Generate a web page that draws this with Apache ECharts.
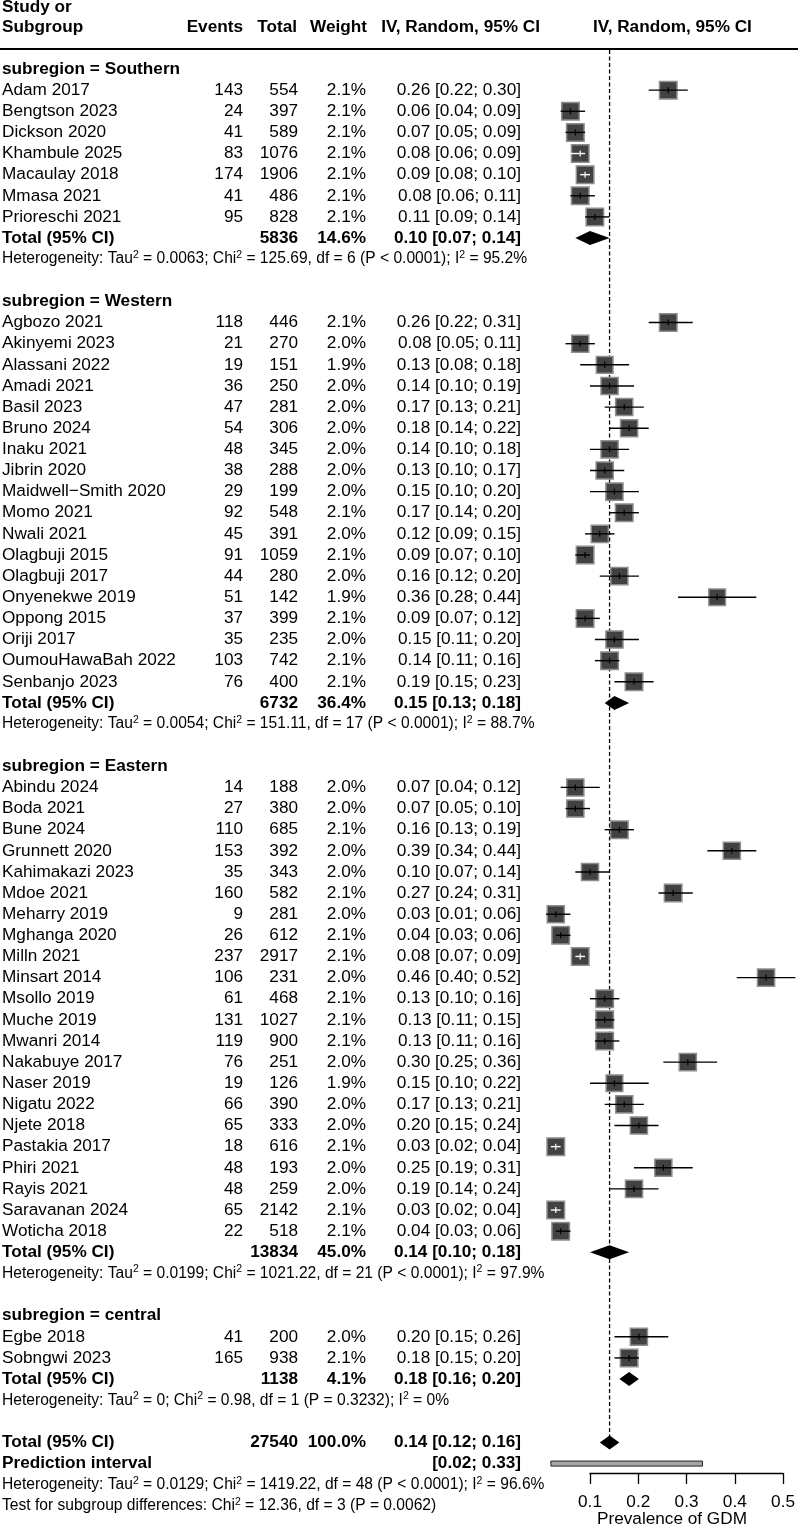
<!DOCTYPE html>
<html>
<head>
<meta charset="utf-8">
<title>Prevalence of GDM - forest plot</title>
<script src="https://cdn.jsdelivr.net/npm/echarts/dist/echarts.min.js"></script>
</head>
<body style="margin:0;background:#fff">
<div id="container" style="width:798px;height:1533px"></div>
<script>
// ---- data ----
var groupNames = ['Southern', 'Western', 'Eastern', 'central'];

var southStudy  = ['Adam 2017', 'Bengtson 2023', 'Dickson 2020', 'Khambule 2025', 'Macaulay 2018', 'Mmasa 2021', 'Prioreschi 2021'];
var southEvents = [143, 24, 41, 83, 174, 41, 95];
var southTotal  = [554, 397, 589, 1076, 1906, 486, 828];
var southWeight = [2.1, 2.1, 2.1, 2.1, 2.1, 2.1, 2.1];
var southEst    = [0.26, 0.06, 0.07, 0.08, 0.09, 0.08, 0.11];
var southLo     = [0.22, 0.04, 0.05, 0.06, 0.08, 0.06, 0.09];
var southHi     = [0.30, 0.09, 0.09, 0.09, 0.10, 0.11, 0.14];

var westStudy  = ['Agbozo 2021', 'Akinyemi 2023', 'Alassani 2022', 'Amadi 2021', 'Basil 2023', 'Bruno 2024', 'Inaku 2021', 'Jibrin 2020', 'Maidwell\u2212Smith 2020', 'Momo 2021', 'Nwali 2021', 'Olagbuji 2015', 'Olagbuji 2017', 'Onyenekwe 2019', 'Oppong 2015', 'Oriji 2017', 'OumouHawaBah 2022', 'Senbanjo 2023'];
var westEvents = [118, 21, 19, 36, 47, 54, 48, 38, 29, 92, 45, 91, 44, 51, 37, 35, 103, 76];
var westTotal  = [446, 270, 151, 250, 281, 306, 345, 288, 199, 548, 391, 1059, 280, 142, 399, 235, 742, 400];
var westWeight = [2.1, 2.0, 1.9, 2.0, 2.0, 2.0, 2.0, 2.0, 2.0, 2.1, 2.0, 2.1, 2.0, 1.9, 2.1, 2.0, 2.1, 2.1];
var westEst    = [0.26, 0.08, 0.13, 0.14, 0.17, 0.18, 0.14, 0.13, 0.15, 0.17, 0.12, 0.09, 0.16, 0.36, 0.09, 0.15, 0.14, 0.19];
var westLo     = [0.22, 0.05, 0.08, 0.10, 0.13, 0.14, 0.10, 0.10, 0.10, 0.14, 0.09, 0.07, 0.12, 0.28, 0.07, 0.11, 0.11, 0.15];
var westHi     = [0.31, 0.11, 0.18, 0.19, 0.21, 0.22, 0.18, 0.17, 0.20, 0.20, 0.15, 0.10, 0.20, 0.44, 0.12, 0.20, 0.16, 0.23];

var eastStudy  = ['Abindu 2024', 'Boda 2021', 'Bune 2024', 'Grunnett 2020', 'Kahimakazi 2023', 'Mdoe 2021', 'Meharry 2019', 'Mghanga 2020', 'Milln 2021', 'Minsart 2014', 'Msollo 2019', 'Muche 2019', 'Mwanri 2014', 'Nakabuye 2017', 'Naser 2019', 'Nigatu 2022', 'Njete 2018', 'Pastakia 2017', 'Phiri 2021', 'Rayis 2021', 'Saravanan 2024', 'Woticha 2018'];
var eastEvents = [14, 27, 110, 153, 35, 160, 9, 26, 237, 106, 61, 131, 119, 76, 19, 66, 65, 18, 48, 48, 65, 22];
var eastTotal  = [188, 380, 685, 392, 343, 582, 281, 612, 2917, 231, 468, 1027, 900, 251, 126, 390, 333, 616, 193, 259, 2142, 518];
var eastWeight = [2.0, 2.0, 2.1, 2.0, 2.0, 2.1, 2.0, 2.1, 2.1, 2.0, 2.1, 2.1, 2.1, 2.0, 1.9, 2.0, 2.0, 2.1, 2.0, 2.0, 2.1, 2.1];
var eastEst    = [0.07, 0.07, 0.16, 0.39, 0.10, 0.27, 0.03, 0.04, 0.08, 0.46, 0.13, 0.13, 0.13, 0.30, 0.15, 0.17, 0.20, 0.03, 0.25, 0.19, 0.03, 0.04];
var eastLo     = [0.04, 0.05, 0.13, 0.34, 0.07, 0.24, 0.01, 0.03, 0.07, 0.40, 0.10, 0.11, 0.11, 0.25, 0.10, 0.13, 0.15, 0.02, 0.19, 0.14, 0.02, 0.03];
var eastHi     = [0.12, 0.10, 0.19, 0.44, 0.14, 0.31, 0.06, 0.06, 0.09, 0.52, 0.16, 0.15, 0.16, 0.36, 0.22, 0.21, 0.24, 0.04, 0.31, 0.24, 0.04, 0.06];

var centStudy  = ['Egbe 2018', 'Sobngwi 2023'];
var centEvents = [41, 165];
var centTotal  = [200, 938];
var centWeight = [2.0, 2.1];
var centEst    = [0.20, 0.18];
var centLo     = [0.15, 0.15];
var centHi     = [0.26, 0.20];

// subgroup summaries
var subTotal  = [5836, 6732, 13834, 1138];
var subWeight = [14.6, 36.4, 45.0, 4.1];
var subEst    = [0.10, 0.15, 0.14, 0.18];
var subLo     = [0.07, 0.13, 0.10, 0.16];
var subHi     = [0.14, 0.18, 0.18, 0.20];
var subTau2   = ['0.0063', '0.0054', '0.0199', '0'];
var subChi2   = ['125.69', '151.11', '1021.22', '0.98'];
var subDf     = [6, 17, 21, 1];
var subP      = ['< 0.0001', '< 0.0001', '< 0.0001', '= 0.3232'];
var subI2     = ['95.2%', '88.7%', '97.9%', '0%'];

// overall
var allTotal = 27540, allWeight = 100.0;
var allEst = 0.14, allLo = 0.12, allHi = 0.16;
var predLo = 0.02, predHi = 0.33;
var allTau2 = '0.0129', allChi2 = '1419.22', allDf = 48, allP = '< 0.0001', allI2 = '96.6%';
var testChi2 = '12.36', testDf = 3, testP = '= 0.0062';

var axisTicks = [0.1, 0.2, 0.3, 0.4, 0.5];
var axisTitle = 'Prevalence of GDM';

// ---- build table rows ----
var groups = [
    [southStudy, southEvents, southTotal, southWeight, southEst, southLo, southHi],
    [westStudy, westEvents, westTotal, westWeight, westEst, westLo, westHi],
    [eastStudy, eastEvents, eastTotal, eastWeight, eastEst, eastLo, eastHi],
    [centStudy, centEvents, centTotal, centWeight, centEst, centLo, centHi]
];
var rows = [];
function addRow(o) { o.r = rows.length; rows.push(o); }
function ci(e, l, h) { return e.toFixed(2) + ' [' + l.toFixed(2) + '; ' + h.toFixed(2) + ']'; }
function het(t, c, d, p, i) {
    return 'Heterogeneity: Tau{s|2} = ' + t + '; Chi{s|2} = ' + c + ', df = ' + d + ' (P ' + p + '); I{s|2} = ' + i;
}
groups.forEach(function (g, k) {
    addRow({kind: 'head', label: 'subregion = ' + groupNames[k]});
    for (var i = 0; i < g[0].length; i++) {
        addRow({kind: 'study', label: g[0][i], events: g[1][i], total: g[2][i], weight: g[3][i],
                est: g[4][i], lo: g[5][i], hi: g[6][i]});
    }
    addRow({kind: 'total', label: 'Total (95% CI)', total: subTotal[k], weight: subWeight[k],
            est: subEst[k], lo: subLo[k], hi: subHi[k]});
    addRow({kind: 'het', label: het(subTau2[k], subChi2[k], subDf[k], subP[k], subI2[k])});
    addRow({kind: 'blank'});
});
addRow({kind: 'total', label: 'Total (95% CI)', total: allTotal, weight: allWeight, est: allEst, lo: allLo, hi: allHi});
addRow({kind: 'pred', label: 'Prediction interval', lo: predLo, hi: predHi});
addRow({kind: 'het', label: het(allTau2, allChi2, allDf, allP, allI2)});
addRow({kind: 'het', label: 'Test for subgroup differences: Chi{s|2} = ' + testChi2 + ', df = ' + testDf + ' (P ' + testP + ')'});
var overallRow = rows.length - 4;

// studies drawn with a white CI line (interval hidden inside the box)
var whiteLineStudies = ['Khambule 2025', 'Macaulay 2018', 'Milln 2021', 'Pastakia 2017', 'Saravanan 2024'];

var FONT = "'Liberation Sans', Arial, Helvetica, sans-serif";
var FS = 17.2, HS = 15.6;
var COL = {name: 2, events: 243, total: 298, weight: 366, ci: 521};

function txt(x, y, s, align, bold, size) {
    return {
        type: 'text',
        style: {
            text: s, x: x, y: y, align: align, verticalAlign: 'middle',
            fontFamily: FONT, fontSize: size || FS, fontWeight: bold ? 'bold' : 'normal', fill: '#000',
            rich: {s: {fontSize: 10.5, fontFamily: FONT, verticalAlign: 'top', padding: [0, 0, 8, 0]}}
        }
    };
}

function renderTable(params, api) {
    var row = rows[params.dataIndex];
    var y = api.coord([0, row.r])[1];
    var ch = [];
    if (row.kind === 'head') {
        ch.push(txt(COL.name, y, row.label, 'left', true));
    } else if (row.kind === 'study') {
        ch.push(txt(COL.name, y, row.label, 'left', false));
        ch.push(txt(COL.events, y, String(row.events), 'right', false));
        ch.push(txt(COL.total, y, String(row.total), 'right', false));
        ch.push(txt(COL.weight, y, row.weight.toFixed(1) + '%', 'right', false));
        ch.push(txt(COL.ci, y, ci(row.est, row.lo, row.hi), 'right', false));
    } else if (row.kind === 'total') {
        ch.push(txt(COL.name, y, row.label, 'left', true));
        ch.push(txt(COL.total, y, String(row.total), 'right', true));
        ch.push(txt(COL.weight, y, row.weight.toFixed(1) + '%', 'right', true));
        ch.push(txt(COL.ci, y, ci(row.est, row.lo, row.hi), 'right', true));
    } else if (row.kind === 'pred') {
        ch.push(txt(COL.name, y, row.label, 'left', true));
        ch.push(txt(COL.ci, y, '[' + row.lo.toFixed(2) + '; ' + row.hi.toFixed(2) + ']', 'right', true));
    } else if (row.kind === 'het') {
        ch.push(txt(COL.name, y, row.label, 'left', false, HS));
    }
    return {type: 'group', children: ch};
}

function renderStudy(params, api) {
    var est = api.value(0), r = api.value(1), lo = api.value(2), hi = api.value(3), w = api.value(4);
    var c = api.coord([est, r]), l = api.coord([lo, r]), h = api.coord([hi, r]);
    var s = 17.5 * Math.sqrt(w / 2.1);
    var col = whiteLineStudies.indexOf(rows[r].label) >= 0 ? '#fff' : '#000';
    return {type: 'group', children: [
        {type: 'rect', shape: {x: c[0] - s / 2, y: c[1] - s / 2, width: s, height: s},
         style: {fill: '#424242', stroke: '#8e8e8e', lineWidth: 1.5}},
        {type: 'line', shape: {x1: l[0], y1: c[1], x2: h[0], y2: c[1]}, style: {stroke: col, lineWidth: 1.4}},
        {type: 'line', shape: {x1: c[0], y1: c[1] - 3, x2: c[0], y2: c[1] + 3}, style: {stroke: col, lineWidth: 1.2}}
    ]};
}

function renderDiamond(params, api) {
    var est = api.value(0), r = api.value(1), lo = api.value(2), hi = api.value(3);
    var c = api.coord([est, r]), l = api.coord([lo, r]), h = api.coord([hi, r]);
    return {type: 'polygon', shape: {points: [[l[0], c[1]], [c[0], c[1] - 7], [h[0], c[1]], [c[0], c[1] + 7]]},
            style: {fill: '#000'}};
}

function renderPred(params, api) {
    var r = api.value(1);
    var l = api.coord([api.value(2), r]), h = api.coord([api.value(3), r]);
    return {type: 'rect', shape: {x: l[0], y: l[1] - 2.5, width: h[0] - l[0], height: 5},
            style: {fill: '#a6a6a6', stroke: '#222', lineWidth: 1}};
}

function renderRef(params, api) {
    var a = api.coord([api.value(0), api.value(1)]), b = api.coord([api.value(0), api.value(2)]);
    return {type: 'line', shape: {x1: a[0], y1: a[1], x2: b[0], y2: b[1]},
            style: {stroke: '#000', lineWidth: 1.3, lineDash: [4, 2.5]}};
}

var studyData = [], diamondData = [], predData = [];
rows.forEach(function (row) {
    if (row.kind === 'study') studyData.push([row.est, row.r, row.lo, row.hi, row.weight]);
    if (row.kind === 'total') diamondData.push([row.est, row.r, row.lo, row.hi]);
    if (row.kind === 'pred') predData.push([0, row.r, row.lo, row.hi]);
});

var ROW0 = 69, ROWH = 21.13, NROW = rows.length - 1;
var HEAD = 'bold ' + FS + 'px ' + FONT;

var myChart = echarts.init(document.getElementById('container'));
var option = {
    backgroundColor: '#fff',
    animation: false,
    textStyle: {fontFamily: FONT},
    graphic: [
        {type: 'text', left: COL.name, top: -1, style: {text: 'Study or', font: HEAD, fill: '#000'}},
        {type: 'text', left: COL.name, top: 19, style: {text: 'Subgroup', font: HEAD, fill: '#000'}},
        {type: 'text', right: 798 - COL.events, top: 19, style: {text: 'Events', font: HEAD, fill: '#000'}},
        {type: 'text', right: 798 - 297, top: 19, style: {text: 'Total', font: HEAD, fill: '#000'}},
        {type: 'text', right: 798 - 367, top: 19, style: {text: 'Weight', font: HEAD, fill: '#000'}},
        {type: 'text', right: 798 - 540, top: 19, style: {text: 'IV, Random, 95% CI', font: HEAD, fill: '#000'}},
        {type: 'text', left: 593, top: 19, style: {text: 'IV, Random, 95% CI', font: HEAD, fill: '#000'}},
        {type: 'line', shape: {x1: 0, y1: 49, x2: 798, y2: 49}, style: {stroke: '#000', lineWidth: 2}},
        // x label sits centred on the plotting panel, not on the tick span
        {type: 'text', left: 597, top: 1511, style: {text: axisTitle, font: FS + 'px ' + FONT, fill: '#000'}}
    ],
    grid: [
        {left: 541.1, right: 2.6, top: ROW0, height: NROW * ROWH},
        {left: 590, width: 195.6, top: 1400, height: 73}
    ],
    xAxis: [
        {gridIndex: 0, type: 'value', min: 0, max: 0.52, show: false},
        {gridIndex: 1, type: 'value', min: axisTicks[0], max: axisTicks[axisTicks.length - 1], interval: 0.1,
         position: 'bottom',
         axisLine: {show: true, lineStyle: {color: '#000', width: 1.3}},
         axisTick: {show: true, length: 11, lineStyle: {color: '#000', width: 1.3}},
         axisLabel: {fontSize: FS, color: '#000', margin: 21, fontFamily: FONT,
                     formatter: function (v) { return v.toFixed(1); }},
         splitLine: {show: false}}
    ],
    yAxis: [
        {gridIndex: 0, type: 'value', min: 0, max: NROW, inverse: true, show: false},
        {gridIndex: 1, type: 'value', min: 0, max: 1, show: false}
    ],
    series: [
        {type: 'custom', name: 'ref', xAxisIndex: 0, yAxisIndex: 0, renderItem: renderRef,
         data: [[allEst, -0.9, overallRow]], z: 1, silent: true},
        {type: 'custom', name: 'table', xAxisIndex: 0, yAxisIndex: 0, renderItem: renderTable,
         data: rows.map(function (row) { return [0, row.r]; }), z: 3, silent: true},
        {type: 'custom', name: 'studies', xAxisIndex: 0, yAxisIndex: 0, renderItem: renderStudy,
         data: studyData, z: 2, silent: true},
        {type: 'custom', name: 'summary', xAxisIndex: 0, yAxisIndex: 0, renderItem: renderDiamond,
         data: diamondData, z: 2, silent: true},
        {type: 'custom', name: 'prediction', xAxisIndex: 0, yAxisIndex: 0, renderItem: renderPred,
         data: predData, z: 2, silent: true}
    ]
};
myChart.setOption(option);
</script>
</body>
</html>
